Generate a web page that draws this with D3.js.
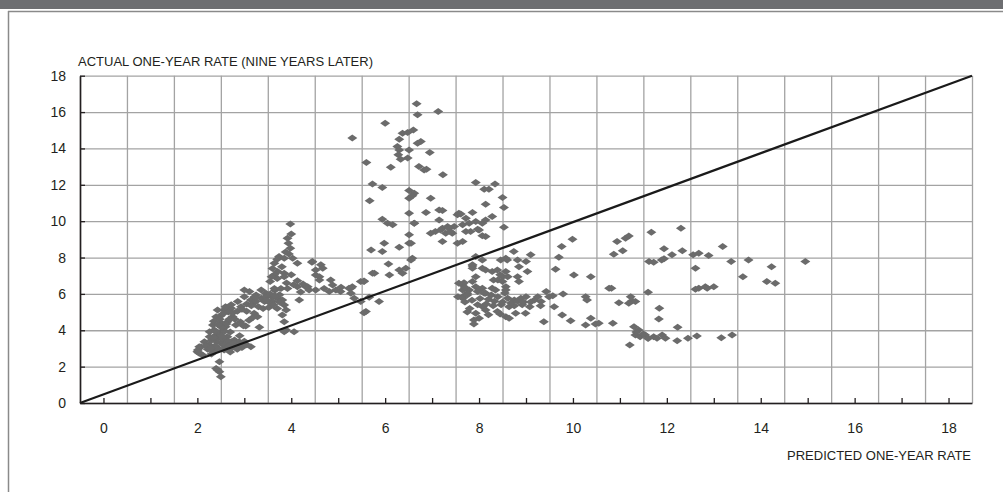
<!DOCTYPE html>
<html>
<head>
<meta charset="utf-8">
<script src="https://cdn.jsdelivr.net/npm/d3@7"></script>
<style>
  body { margin: 0; background: #fff; }
  svg { display: block; font-family: "Liberation Sans", Arial, Helvetica, sans-serif; }
  .grid line { stroke: #a3a3a3; stroke-width: 1.3; }
  .grid .domain { display: none; }
  .axis text { fill: #231f20; font-size: 14px; }
  .axis line { stroke: #231f20; stroke-width: 1.3; }
  .axis .domain { stroke: #231f20; stroke-width: 1.6; }
  .title { fill: #231f20; font-size: 13px; }
</style>
</head>
<body>
<svg class="chart"></svg>
<script>
// predicted one-year rate (x) and actual rate nine years later (y)
var predicted = [
  2.47,2.40,2.47,2.50,2.43,
  2.04,2.00,2.11,2.04,2.01,2.08,2.15,2.26,2.43,2.40,2.36,2.33,2.26,
  2.57,2.72,2.79,2.57,2.72,2.89,3.14,2.64,2.50,2.60,2.80,2.95,3.05,2.35,2.25,2.40,2.30,2.45,2.55,2.65,2.85,2.70,
  2.40,2.43,2.57,2.72,2.75,2.64,3.03,3.32,3.21,3.28,2.82,2.98,2.50,2.55,2.45,2.60,2.70,2.90,2.35,2.50,2.48,
  2.86,2.93,3.14,3.11,3.25,3.36,3.43,3.50,3.60,3.71,3.81,3.85,3.89,3.81,3.85,3.89,4.06,3.85,4.17,3.00,3.36,3.46,3.05,3.30,3.55,3.70,3.60,3.20,3.40,3.75,3.65,
  2.30,2.38,2.52,2.58,2.62,2.68,2.75,2.85,2.95,3.05,3.15,3.25,3.45,3.55,3.65,2.52,2.44,2.38,2.58,2.68,2.78,2.88,3.00,2.92,2.80,2.66,2.54,2.60,2.72,3.10,3.18,2.22,2.18,2.28,2.34,3.52,3.48,3.62,3.75,3.00,3.22,
  3.98,3.92,3.94,3.98,3.74,3.85,4.03,4.13,3.64,3.71,3.85,3.64,3.85,4.00,4.13,3.55,3.64,3.78,3.92,4.13,3.95,3.80,3.70,4.05,3.90,3.58,4.00,3.88,3.70,3.60,
  4.44,4.63,4.52,4.45,4.67,4.52,4.60,4.60,4.84,4.35,4.52,4.88,4.95,5.06,5.27,5.48,4.31,4.38,4.81,5.05,5.23,5.27,5.34,5.48,5.66,5.87,5.59,5.55,5.55,5.30,4.70,4.20,4.25,
  5.70,5.94,5.98,6.30,6.51,6.51,6.58,6.55,6.30,6.37,6.44,6.09,5.77,6.07,5.55,6.62,6.55,5.73,
  6.67,6.69,7.13,6.00,5.30,6.37,6.48,6.60,6.30,6.69,6.76,6.26,6.30,6.51,6.28,6.33,6.48,6.95,5.60,6.12,6.72,6.83,6.88,7.23,5.73,5.94,5.67,6.51,6.62,6.51,6.97,6.58,
  6.51,6.87,7.15,5.94,6.05,6.16,6.62,
  7.93,8.11,8.21,8.34,8.50,8.53,8.14,7.15,7.22,7.33,7.54,7.72,7.86,8.28,7.47,7.65,7.79,7.93,8.07,8.14,6.97,7.07,7.18,7.43,7.72,7.82,8.00,8.14,7.22,7.54,7.65,7.22,7.57,7.36,7.29,8.53,7.61,8.07,7.39,7.97,
  7.93,8.07,7.86,8.14,8.28,8.50,8.60,8.46,8.57,8.82,9.00,8.85,9.03,8.39,8.57,8.61,8.82,8.85,7.93,7.86,8.31,8.40,7.65,7.68,8.07,8.28,8.57,7.86,8.07,8.74,9.10,7.57,7.65,7.79,7.89,7.86,
  7.65,7.75,7.93,8.00,8.14,8.35,8.50,8.57,
  7.55,7.65,7.75,7.97,8.11,8.26,8.40,8.61,8.75,8.89,9.00,9.18,9.32,9.43,9.57,9.79,9.49,
  7.97,8.08,8.47,8.64,8.75,8.92,9.08,9.31,9.60,
  7.70,7.85,8.02,8.20,8.33,8.50,8.68,8.82,8.95,8.15,8.30,7.80,8.20,8.45,7.75,9.10,9.25,8.55,7.70,8.45,
  7.93,8.14,8.39,8.57,8.64,8.78,8.99,8.00,7.89,9.38,9.77,9.95,10.27,10.30,10.38,10.27,10.48,
  9.99,9.76,9.70,9.63,10.02,10.38,10.77,
  10.94,11.12,11.19,11.67,12.30,10.87,11.06,11.94,12.33,12.11,11.62,11.72,11.89,11.94,12.56,12.68,12.89,13.19,12.61,13.37,13.74,14.23,14.95,13.62,14.13,14.31,12.61,12.68,12.82,12.86,13.00,10.82,11.60,11.23,11.26,11.33,10.98,11.19,11.84,11.83,10.85,10.55,
  11.30,11.40,11.33,11.43,11.54,11.72,11.79,11.90,11.97,12.22,12.23,12.45,12.64,11.21,13.16,13.39,11.50,11.60,11.35
];
var actual = [
  2.27,1.90,1.72,1.45,1.82,
  3.10,2.82,2.64,2.73,2.92,3.10,3.37,3.65,3.56,3.74,4.02,4.29,3.92,
  3.28,3.37,3.47,2.92,3.01,3.37,3.10,3.65,3.30,3.10,3.15,3.05,3.20,2.85,3.20,3.40,2.70,3.00,3.55,3.40,2.95,2.80,
  4.75,5.12,5.12,5.21,4.75,4.47,4.24,4.16,4.93,4.75,4.29,4.25,4.40,4.00,3.85,4.20,3.90,3.70,4.50,4.80,4.60,
  5.58,5.30,5.67,6.13,5.94,5.76,5.58,5.94,5.81,5.76,5.67,5.39,5.12,4.84,4.47,4.02,3.92,3.92,5.67,6.22,6.22,6.04,5.45,5.30,5.50,5.20,5.60,5.50,5.20,5.95,6.20,
  3.45,3.15,3.70,3.95,4.35,4.60,4.95,5.05,5.15,5.05,5.35,5.60,5.85,6.00,5.90,4.15,4.30,3.95,3.20,3.15,3.30,3.20,3.40,4.45,4.60,5.00,4.90,5.30,5.40,4.55,4.70,2.95,3.15,3.00,3.60,5.25,5.65,5.40,5.55,5.85,5.85,
  9.85,9.06,8.79,8.51,8.05,7.96,7.96,7.69,7.69,7.23,7.13,7.05,6.95,7.05,6.73,6.68,6.30,6.30,6.30,6.40,8.20,7.50,6.85,6.50,6.60,6.95,9.30,8.30,7.90,7.40,
  7.74,7.60,7.32,7.78,7.41,7.04,6.95,6.77,6.77,6.40,6.22,6.49,6.22,6.37,6.31,6.68,6.40,6.22,6.13,6.13,6.31,6.04,5.76,5.58,5.81,5.58,5.03,4.97,6.71,6.40,6.30,6.10,6.55,
  8.42,8.33,8.79,8.57,8.79,9.25,7.96,7.87,7.32,7.14,7.41,7.04,7.14,7.65,6.68,9.89,8.79,7.14,
  16.46,15.85,16.03,15.39,14.57,14.84,14.88,15.02,14.51,14.29,14.38,14.10,13.92,13.92,13.65,13.41,13.47,13.78,13.23,12.97,13.00,12.82,12.86,12.55,12.04,11.85,11.12,11.68,11.54,11.26,11.26,11.40,
  10.44,10.47,10.62,10.10,9.89,9.80,9.89,
  12.12,11.76,11.76,12.04,11.30,10.75,10.93,10.07,9.61,9.70,10.35,10.16,10.47,10.25,9.70,9.80,9.89,9.98,9.89,10.07,9.34,9.43,9.52,9.34,9.43,9.43,9.52,9.15,8.88,8.79,8.88,10.58,10.44,9.61,9.34,9.67,10.40,9.20,9.43,9.55,
  8.05,7.87,7.54,7.32,7.23,6.95,7.87,7.87,7.96,7.87,7.78,7.50,7.23,7.32,7.23,6.95,6.95,6.68,6.95,6.68,6.77,6.77,6.49,6.62,6.31,6.31,6.40,7.60,7.41,8.33,8.15,6.59,5.85,6.22,4.57,7.41,
  6.22,6.04,6.40,6.22,6.04,6.22,6.68,6.22,
  5.85,5.76,5.94,6.13,6.04,5.94,5.85,5.76,5.67,5.76,5.85,5.67,5.58,6.13,5.90,6.00,5.85,
  5.40,5.30,5.40,5.30,5.35,5.40,5.30,5.35,5.30,
  5.55,5.65,5.75,5.70,5.60,5.55,5.50,5.60,5.55,5.45,5.35,5.20,4.85,4.90,5.00,5.55,5.85,6.05,6.35,7.05,
  4.93,5.12,5.03,4.75,4.66,4.93,4.93,4.66,4.35,4.47,4.84,4.53,5.85,5.67,4.66,4.29,4.35,
  9.00,8.60,8.02,7.36,7.04,6.95,6.31,
  8.88,9.06,9.19,9.39,9.61,8.18,8.37,8.48,8.37,8.15,7.78,7.74,7.87,7.93,8.15,8.24,8.11,8.60,7.41,7.78,7.87,7.50,7.78,6.95,6.68,6.58,6.26,6.31,6.40,6.31,6.40,6.31,6.09,5.85,5.63,5.58,5.52,5.49,5.21,4.62,4.39,4.39,
  4.20,4.02,3.74,3.65,3.74,3.65,3.56,3.74,3.56,3.43,4.17,3.56,3.69,3.19,3.59,3.74,3.80,3.55,3.90
];
// reference line, corner to corner of the plot
var lineX = [-0.5, 18.5];
var lineY = [0, 18];
var xTickLabels = [0, 2, 4, 6, 8, 10, 12, 14, 16, 18];
var yTickLabels = [0, 2, 4, 6, 8, 10, 12, 14, 16, 18];

var width = 1003, height = 492;
var plotLeft = 80, plotRight = 972, plotTop = 75.7, plotBottom = 403;

var svg = d3.select(".chart")
    .attr("width", width)
    .attr("height", height);

// page frame
svg.append("rect").attr("x", 0).attr("y", 0).attr("width", width).attr("height", 9).attr("fill", "#6d6e71");
svg.append("line").attr("x1", 8).attr("x2", width).attr("y1", 11.5).attr("y2", 11.5)
    .attr("stroke", "#8a8a8a").attr("stroke-width", 1.5);
svg.append("line").attr("x1", 8.5).attr("x2", 8.5).attr("y1", 11).attr("y2", height)
    .attr("stroke", "#8a8a8a").attr("stroke-width", 1.5);

var x = d3.scaleLinear().domain([-0.5, 18.5]).range([plotLeft, plotRight]);
var y = d3.scaleLinear().domain([0, 18]).range([plotBottom, plotTop]);

// grid
svg.append("g")
    .attr("class", "grid")
    .attr("transform", "translate(0," + plotBottom + ")")
    .call(d3.axisBottom(x).tickValues(d3.range(-0.5, 18.6, 1)).tickSize(-(plotBottom - plotTop)).tickFormat(""));
svg.append("g")
    .attr("class", "grid")
    .attr("transform", "translate(" + plotLeft + ",0)")
    .call(d3.axisLeft(y).tickValues(yTickLabels).tickSize(-(plotRight - plotLeft)).tickFormat(""));

// points
svg.append("g").selectAll("path")
    .data(predicted)
    .enter().append("path")
    .attr("d", "M0,-3.5L5,0L0,3.5L-5,0Z")
    .attr("fill", "#6b6b6b")
    .attr("transform", function (d, i) { return "translate(" + x(d) + "," + y(actual[i]) + ")"; });

// reference line
svg.append("path")
    .datum(d3.zip(lineX, lineY))
    .attr("fill", "none")
    .attr("stroke", "#1a1a1a")
    .attr("stroke-width", 2.2)
    .attr("d", d3.line().x(function (d) { return x(d[0]); }).y(function (d) { return y(d[1]); }));

// axes
svg.append("g")
    .attr("class", "axis")
    .attr("transform", "translate(0," + plotBottom + ")")
    .call(d3.axisBottom(x)
        .tickValues(d3.range(0, 19))
        .tickSizeInner(-5).tickSizeOuter(0)
        .tickPadding(20)
        .tickFormat(function (d) { return xTickLabels.indexOf(d) >= 0 ? d : ""; }));

svg.append("g")
    .attr("class", "axis")
    .attr("transform", "translate(" + plotLeft + ",0)")
    .call(d3.axisLeft(y)
        .tickValues(yTickLabels)
        .tickSizeInner(-5).tickSizeOuter(0)
        .tickPadding(14));

svg.append("text")
    .attr("class", "title")
    .attr("x", 78).attr("y", 65.5)
    .text("ACTUAL ONE-YEAR RATE (NINE YEARS LATER)");

svg.append("text")
    .attr("class", "title")
    .attr("x", 971).attr("y", 459.5)
    .attr("text-anchor", "end")
    .text("PREDICTED ONE-YEAR RATE");
</script>
</body>
</html>
